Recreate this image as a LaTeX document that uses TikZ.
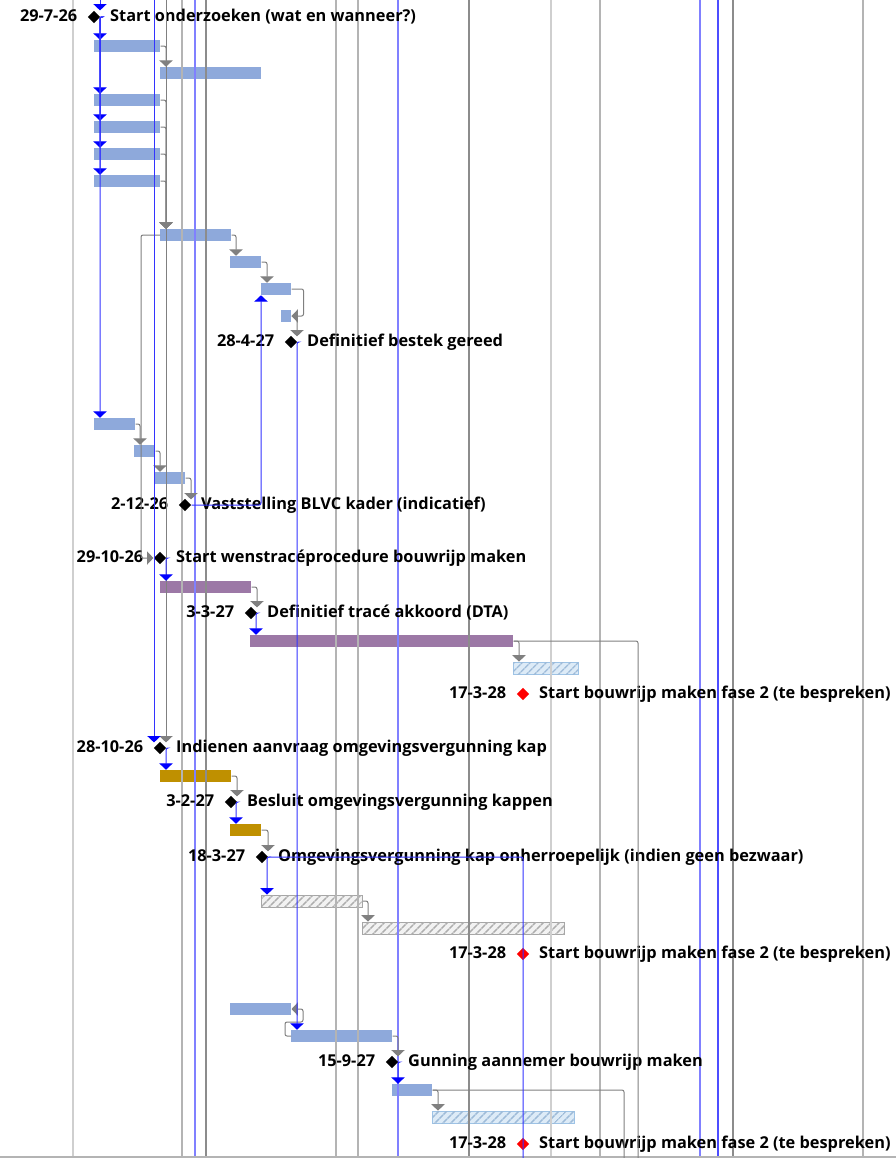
\documentclass[tikz,border=0pt]{standalone}
\usepackage{fontspec}
\setmainfont{Open Sans}
\usetikzlibrary{positioning,shapes.geometric,arrows.meta,calc,patterns.meta}

\definecolor{taakblauw}{HTML}{8EA9DB}
\definecolor{paars}{HTML}{9C78A6}
\definecolor{goud}{HTML}{BF9000}
\definecolor{arceerblauw}{HTML}{DDEBF7}
\definecolor{arceerblauwlijn}{HTML}{9DBAD8}
\definecolor{arceerblauwrand}{HTML}{9DC3E6}
\definecolor{arceergrijs}{HTML}{F2F2F2}
\definecolor{arceergrijslijn}{HTML}{ADADAD}
\definecolor{arceergrijsrand}{HTML}{A6A6A6}
\definecolor{rasterlicht}{HTML}{CFCFCF}
\definecolor{rastergrijs}{HTML}{B4B4B4}
\definecolor{rasterdonker}{HTML}{8C8C8C}
\definecolor{rasterblauw}{HTML}{8080FF}
\definecolor{koppelgrijs}{HTML}{808080}

\tikzset{
  taak/.style={fill=taakblauw, inner sep=0pt, minimum height=9pt, anchor=west},
  fase/.style={taak, fill=paars},
  kap/.style={taak, fill=goud},
  arceerblauw/.style={taak, fill=arceerblauw, draw=arceerblauwrand, line width=0.6pt,
    postaction={pattern={Lines[angle=45,distance=4pt,line width=1.2pt]}, pattern color=arceerblauwlijn}},
  arceergrijs/.style={taak, fill=arceergrijs, draw=arceergrijsrand, line width=0.6pt,
    postaction={pattern={Lines[angle=45,distance=4pt,line width=1.2pt]}, pattern color=arceergrijslijn}},
  mijlpaal/.style={diamond, fill=black, inner sep=0pt, minimum size=9.5pt},
  rodemijlpaal/.style={mijlpaal, fill=red},
  datum/.style={inner sep=0pt, text height=7.4pt, text depth=1.3pt},
  glink/.style={draw=koppelgrijs, line width=0.75pt, rounded corners=1.5pt,
    -{Triangle[width=10pt,length=4.8pt]}},
  blink/.style={draw=blue!80, line width=0.75pt, rounded corners=1.5pt,
    -{Triangle[width=10pt,length=4.8pt,color=blue]}},
}

\begin{document}
\begin{tikzpicture}[x=0.75pt,y=-0.75pt,
  every node/.append style={font=\fontsize{12.25}{15}\selectfont\bfseries}]
\useasboundingbox (0,0) rectangle (896,1158);

% balken
\foreach \naam/\van/\tot/\y/\stijl in {
  b1/94/160/46/taak, b2/160/261/73/taak, b3/94/160/100/taak, b4/94/160/127/taak,
  b5/94/160/154/taak, b6/94/160/181/taak, b7/160/231/235/taak, b8/230/261/262/taak,
  b9/261/291/289/taak, b10/281/291/316/taak, b11/94/135/424/taak, b12/134/155/451/taak,
  b13/154/185/478/taak, p1/160/251/587/fase, p2/250/513/641/fase, h1/513/578/668/arceerblauw,
  g1/160/231/776/kap, g2/230/261/830/kap, h2/261/362/901/arceergrijs, h3/362/564/928/arceergrijs,
  b14/230/291/1009/taak, b15/291/392/1036/taak, b16/392/432/1090/taak, h4/432/574/1117/arceerblauw}
  \node[\stijl, minimum width={(\tot-\van)*0.75pt}] (\naam) at (\van,\y) {};

% raster
\foreach \x/\kleur/\dikte in {73/rasterlicht/1.1, 182/rastergrijs/1.1, 195/rasterblauw/1.1,
  206/rasterdonker/1.4, 336/rastergrijs/1.1, 358/rastergrijs/1.1, 398/rasterblauw/1.1,
  469/rasterdonker/1.4, 551/rasterlicht/1.4, 600/rastergrijs/1, 700/rasterblauw/1.5,
  718/rasterblauw!140/1, 733/rasterdonker/1.4, 863/rastergrijs/1}
  \draw[\kleur, line width=\dikte pt] (\x,0) -- (\x,1158);
\draw[rastergrijs, line width=1pt] (0,1157) -- (896,1157);

% mijlpalen
\foreach \stijl/\naam/\x/\y/\datum/\tekst in {
  mijlpaal/m1/94/17/29-7-26/Start onderzoeken (wat en wanneer?),
  mijlpaal/m2/291/342/28-4-27/Definitief bestek gereed,
  mijlpaal/m3/185/505/2-12-26/Vaststelling BLVC kader (indicatief),
  mijlpaal/m4/160/558/29-10-26/Start wenstracéprocedure bouwrijp maken,
  mijlpaal/m5/251/613/3-3-27/Definitief tracé akkoord (DTA),
  rodemijlpaal/m6/523/694/17-3-28/Start bouwrijp maken fase 2 (te bespreken),
  mijlpaal/m7/160/748/28-10-26/Indienen aanvraag omgevingsvergunning kap,
  mijlpaal/m8/231/802/3-2-27/Besluit omgevingsvergunning kappen,
  mijlpaal/m9/262/857/18-3-27/Omgevingsvergunning kap onherroepelijk (indien geen bezwaar),
  rodemijlpaal/m10/523/954/17-3-28/Start bouwrijp maken fase 2 (te bespreken),
  mijlpaal/m11/392/1062/15-9-27/Gunning aannemer bouwrijp maken,
  rodemijlpaal/m12/523/1144/17-3-28/Start bouwrijp maken fase 2 (te bespreken)}
{
  \node[\stijl] (\naam) at (\x,\y) {};
  \node[datum, left=7.5pt of \naam] (\naam-d) {\datum};
  \node[datum, right=7pt of \naam] (\naam-t) {\tekst};
}

\coordinate (boven1) at (100,0);
\coordinate (boven2) at (154,0);
\coordinate (boven3) at (166,0);
\coordinate (onder1) at (638,1158);
\coordinate (onder2) at (624,1158);
\coordinate (onder3) at (523,1158);

% grijze koppelingen
\draw[glink] (b1.east) -| ($(b2.north west)+(6,0)$);
\foreach \t in {b3,b4,b5,b6}
  \draw[glink] (\t.east) -| ($(b7.north west)+(6,0)$);
\draw[glink] (b7.east) -| ($(b8.north west)+(6,0)$);
\draw[glink] (b8.east) -| ($(b9.north west)+(6,0)$);
\draw[glink] (b9.east) -- ++(12,0) |- (b10.east);
\draw[glink] (b10.east) -| ($(m2.north)+(6,1)$);
\draw[glink] (b7.west) -| (141,558) -- (m4.west);
\draw[glink] (b11.east) -| ($(b12.north west)+(6,0)$);
\draw[glink] (b12.east) -| ($(b13.north west)+(6,0)$);
\draw[glink] (b13.east) -| ($(m3.north)+(6,1)$);
\draw[glink] (boven3) -- ($(m7.north)+(6,1)$);
\draw[glink] (p1.east) -| ($(m5.north)+(6,1)$);
\draw[glink] (p2.east) -| ($(h1.north west)+(6,0)$);
\draw[glink, -] (p2.east) -| (onder1);
\draw[glink] (g1.east) -| ($(m8.north)+(6,1)$);
\draw[glink] (g2.east) -| ($(m9.north)+(6,1)$);
\draw[glink] (h2.east) -| ($(h3.north west)+(6,0)$);
\draw[glink] (b15.west) -- ++(-6,0) -- ++(0,-14) -- ++(18,0) |- (b14.east);
\draw[glink] (b15.east) -| ($(m11.north)+(6,1)$);
\draw[glink] (b16.east) -| ($(h4.north west)+(6,0)$);
\draw[glink, -] (b16.east) -| (onder2);

% blauwe koppelingen
\draw[blink] (boven1) -- ($(m1.north)+(6,0)$);
\foreach \t in {b1,b3,b4,b5,b6,b11}
  \draw[blink] (m1.east) -| ($(\t.north west)+(6,0)$);
\draw[blink] (m2.east) -| ($(b15.north west)+(6,0)$);
\draw[blink] (m3.east) -| (b9.south west);
\draw[blink] (boven2) -- ($(m7.north)+(-6,1)$);
\draw[blink] (m4.east) -| ($(p1.north west)+(6,0)$);
\draw[blink] (m5.east) -| ($(p2.north west)+(6,0)$);
\draw[blink] (m7.east) -| ($(g1.north west)+(6,0)$);
\draw[blink] (m8.east) -| ($(g2.north west)+(6,0)$);
\draw[blink] (m9.east) -| ($(h2.north west)+(6,0)$);
\draw[blink, -] (m9.east) -| (onder3);
\draw[blink] (m11.east) -| ($(b16.north west)+(6,0)$);
\end{tikzpicture}
\end{document}
